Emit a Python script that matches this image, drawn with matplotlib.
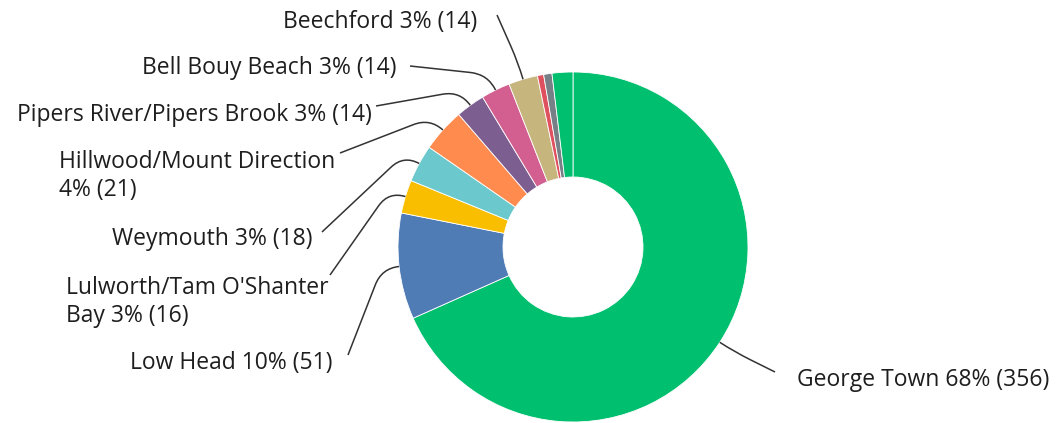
import numpy as np
import matplotlib.pyplot as plt
from matplotlib.path import Path
from matplotlib.patches import PathPatch

plt.rcParams['font.family'] = ['Open Sans', 'DejaVu Sans']

# responses per locality (last three slices are unlabelled)
names = ['George Town', 'Low Head', "Lulworth/Tam O'Shanter\nBay", 'Weymouth',
         'Hillwood/Mount Direction', 'Pipers River/Pipers Brook', 'Bell Bouy Beach',
         'Beechford', '', '', '']
counts = [356, 51, 16, 18, 21, 14, 14, 14, 3, 4, 10]
colors = ['#00bf6f', '#507cb6', '#f9be00', '#6bc8cd', '#ff8b4f', '#7d5e90',
          '#d25f90', '#c6b67e', '#e0515f', '#768086', '#00bf6f']

# label layout in pixels: text anchor, alignment, leader start
W, H, CX, CY, R = 1062, 423, 573, 247, 175
label_pos = [(797, 380), (332, 363), (329, 302), (312, 239), (335, 176),
             (372, 115), (397, 68), (477, 22)]
label_ha = ['left'] + ['right'] * 7
line_start = [(775, 372), (348, 355), (330, 275), (322, 232), (340, 153),
              (376, 106), (410, 66), (497, 15)]
breaks = [' ', ' ', ' ', ' ', '\n', ' ', ' ', ' ']


def px(x, y):
    return (x - CX) / R, (CY - y) / R


fig = plt.figure(figsize=(W / 100, H / 100), dpi=100)
ax = fig.add_axes([0, 0, 1, 1])
ax.pie(counts, colors=colors, startangle=90, counterclock=False, radius=1,
       wedgeprops=dict(width=0.6, edgecolor='white', linewidth=0.6))
ax.set_xlim(-CX / R, (W - CX) / R)
ax.set_ylim(-(H - CY) / R, CY / R)
ax.set_aspect('auto')
ax.axis('off')

total = sum(counts)
cum = np.cumsum([0] + counts)
for i in range(len(label_pos)):
    pct = round(100 * counts[i] / total)
    text = f'{names[i]}{breaks[i]}{pct}% ({counts[i]})'
    tx, ty = px(*label_pos[i])
    ax.text(tx, ty, text, ha=label_ha[i], va='center', fontsize=16.5,
            fontweight='medium', color='#1e1e1e', multialignment='left',
            linespacing=1.2)

    # leader: straight run to an elbow just outside the ring, then into the wedge
    mid = np.deg2rad(90 - 360 * (cum[i] + counts[i] / 2) / total)
    end = np.array([np.cos(mid), np.sin(mid)])
    elbow = end * 1.1
    start = np.array(px(*line_start[i]))
    d = start - elbow
    p1 = elbow + d / np.linalg.norm(d) * 0.1
    path = Path([start, p1, elbow, end],
                [Path.MOVETO, Path.LINETO, Path.CURVE3, Path.CURVE3])
    ax.add_patch(PathPatch(path, fill=False, edgecolor='#333333', lw=1.1))

fig.savefig('out.png', dpi=100)
